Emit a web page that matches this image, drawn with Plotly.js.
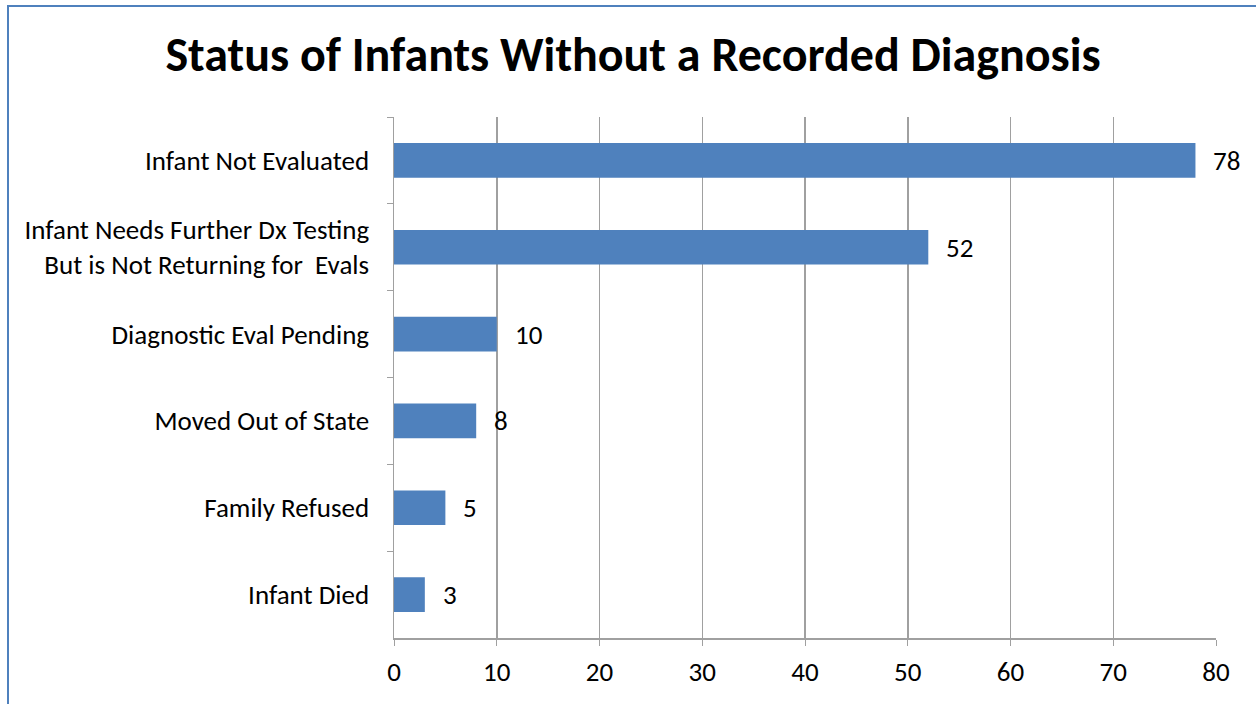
<!DOCTYPE html>
<html>
<head>
<meta charset="utf-8">
<script src="https://cdn.plot.ly/plotly-3.0.1.min.js"></script>
<style>
html,body{margin:0;padding:0;background:#fff;overflow:hidden;}
#chart{width:1256px;height:704px;}
#frame{position:absolute;left:7px;top:5px;width:1400px;height:900px;border:2px solid #4F81BD;pointer-events:none;box-sizing:border-box;}
</style>
</head>
<body>
<div id="chart"></div>
<div id="frame"></div>
<script>
const categories = ["Infant Not Evaluated", "Infant Needs Further Dx Testing<br>But is Not Returning for  Evals", "Diagnostic Eval Pending", "Moved Out of State", "Family Refused", "Infant Died"];
const values = [78, 52, 10, 8, 5, 3];
const xTicks = [0, 10, 20, 30, 40, 50, 60, 70, 80];

const font = "Carlito, Calibri, 'Noto Sans', 'Open Sans', sans-serif";

const trace = {
  type: "bar",
  orientation: "h",
  y: categories,
  x: values,
  marker: {color: "#4F81BD"},
  hoverinfo: "skip"
};

const annotations = values.map((v, i) => ({
  x: v, y: categories[i], xref: "x", yref: "y",
  text: String(v), showarrow: false, xanchor: "left", xshift: 16,
  font: {family: font, size: 27, color: "#000"}
}));

const layout = {
  width: 1256, height: 704,
  margin: {l: 394, r: 40, t: 117, b: 66},
  paper_bgcolor: "#fff", plot_bgcolor: "#fff",
  bargap: 0.6,
  showlegend: false,
  title: {text: "<b>Status of Infants Without a Recorded Diagnosis</b>", x: 0.504, xanchor: "center", y: 0.923, yanchor: "middle",
          font: {family: font, size: 48, color: "#000"}},
  xaxis: {range: [0, 80], tickvals: xTicks, ticktext: xTicks.map(String), showgrid: true, gridcolor: "#A0A0A0", gridwidth: 1.5,
          zeroline: false, showline: true, linecolor: "#A0A0A0", linewidth: 1.5, ticks: "outside", ticklen: 6, tickcolor: "#A0A0A0",
          tickfont: {family: font, size: 27, color: "#000"}, ticklabelstandoff: 3, fixedrange: true},
  yaxis: {autorange: "reversed", showgrid: false, zeroline: false, showline: true, linecolor: "#A0A0A0", linewidth: 1.5,
          ticks: "outside", tickson: "boundaries", ticklen: 6, tickcolor: "#A0A0A0",
          tickfont: {family: font, size: 27, color: "#000"}, ticklabelstandoff: 18, fixedrange: true},
  annotations: annotations
};

Plotly.newPlot("chart", [trace], layout, {displayModeBar: false, staticPlot: true});
</script>
</body>
</html>
